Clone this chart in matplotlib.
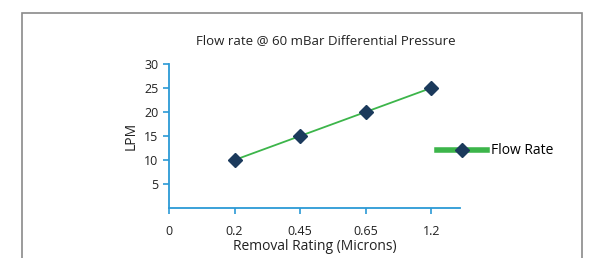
import matplotlib
matplotlib.use('Agg')
import matplotlib.pyplot as plt
from matplotlib.lines import Line2D
from matplotlib.patches import Rectangle

plt.rcParams['font.family'] = ['Open Sans', 'DejaVu Sans']

# data
categories = ['0', '0.2', '0.45', '0.65', '1.2']
flow_rate = [None, 10, 15, 20, 25]
y_ticks = [5, 10, 15, 20, 25, 30]

axis_blue = '#2b9ad6'
line_green = '#3cb54a'
marker_navy = '#1b3a5c'


def main():
    fig = plt.figure(figsize=(5.97, 2.58), dpi=100)

    # gray frame around the chart
    fig.patches.append(Rectangle((22 / 597, -0.2), 560 / 597, 1.2 - 13 / 258,
                                 transform=fig.transFigure, fill=False,
                                 edgecolor='#8a8a8a', linewidth=1.2))

    ax = fig.add_axes([169 / 597, 1 - 208 / 258, 291 / 597, 144 / 258])

    xs = [i for i, v in enumerate(flow_rate) if v is not None]
    ys = [v for v in flow_rate if v is not None]
    ax.plot(xs, ys, color=line_green, linewidth=1.3, marker='D',
            markersize=7.5, markerfacecolor=marker_navy,
            markeredgecolor=marker_navy, clip_on=False)

    ax.set_xlim(0, 4.44)
    ax.set_ylim(0, 30)
    ax.set_xticks(range(len(categories)))
    ax.set_xticklabels(categories)
    ax.set_yticks(y_ticks)

    for side in ['top', 'right']:
        ax.spines[side].set_visible(False)
    for side in ['left', 'bottom']:
        ax.spines[side].set_color(axis_blue)
        ax.spines[side].set_linewidth(1.3)
    ax.tick_params(colors=axis_blue, labelcolor='#222222', labelsize=9,
                   length=4, width=1.2)
    ax.tick_params(axis='x', pad=8)

    ax.set_xlabel('Removal Rating (Microns)', fontsize=10, color='#222222',
                  labelpad=1)
    ax.set_ylabel('LPM', fontsize=10, color='#222222', labelpad=4)
    fig.text(326 / 597, 1 - 41 / 258,
             'Flow rate @ 60 mBar Differential Pressure',
             ha='center', va='center', fontsize=9.5, color='#222222')

    handle = Line2D([], [], color=line_green, linewidth=4, marker='D',
                    markersize=7.5, markerfacecolor=marker_navy,
                    markeredgecolor=marker_navy)
    ax.legend([handle], ['Flow Rate'], loc='center left',
              bbox_to_anchor=(437 / 597, 1 - 151 / 258),
              bbox_transform=fig.transFigure, frameon=False, borderpad=0,
              borderaxespad=0, handlelength=3.6, handletextpad=0.3,
              fontsize=10)

    fig.savefig('out.png', dpi=100)


if __name__ == "__main__":
    main()
